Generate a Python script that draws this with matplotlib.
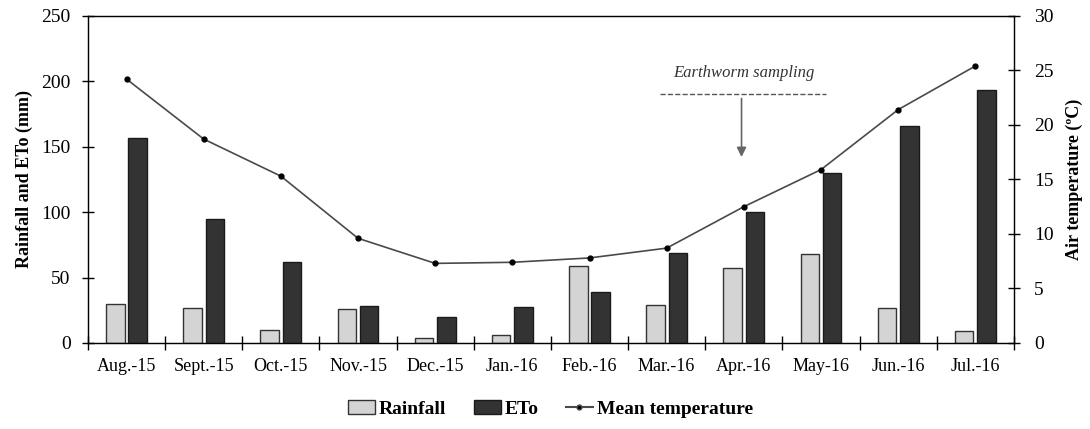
import numpy as np
import matplotlib
matplotlib.use('Agg')
import matplotlib.pyplot as plt
from matplotlib.patches import Patch
from matplotlib.lines import Line2D

plt.rcParams['font.family'] = ['Liberation Serif', 'DejaVu Serif']
plt.rcParams['font.size'] = 13

# data
months = ['Aug.-15', 'Sept.-15', 'Oct.-15', 'Nov.-15', 'Dec.-15', 'Jan.-16',
          'Feb.-16', 'Mar.-16', 'Apr.-16', 'May-16', 'Jun.-16', 'Jul.-16']
rainfall = [30, 27, 10, 26, 3.5, 6, 59, 29, 57, 68, 27, 9]
eto = [157, 95, 62, 28, 20, 27.5, 39, 69, 100, 130, 166, 193]
temp = [24.2, 18.7, 15.3, 9.6, 7.3, 7.4, 7.8, 8.7, 12.5, 15.9, 21.4, 25.4]

x = np.arange(len(months))
w = 0.24

fig = plt.figure(figsize=(10.9, 4.29), dpi=100)
ax = fig.add_axes([0.0807, 0.2005, 0.8495, 0.7625])
ax.bar(x - 0.145, rainfall, w, color='#d4d4d4', edgecolor='#333333', linewidth=1)
ax.bar(x + 0.145, eto, w, color='#333333', edgecolor='#1a1a1a', linewidth=1)
ax.set_xlim(-0.5, len(months) - 0.5)
ax.set_ylim(0, 250)
ax.set_yticks(range(0, 251, 50))
ax.set_xticks(x)
ax.set_xticklabels(months)
ax.set_xticks(np.arange(-0.5, len(months) + 0.5, 1), minor=True)
ax.tick_params(axis='x', which='major', length=0, pad=11)
ax.tick_params(axis='x', which='minor', direction='inout', length=10, width=1)
ax.tick_params(axis='y', direction='inout', length=9, width=1, pad=8, labelsize=14)
ax.set_ylabel('Rainfall and ETo (mm)', fontweight='bold', labelpad=6)
for s in ax.spines.values():
    s.set_linewidth(1)
    s.set_color('#222222')

ax2 = ax.twinx()
ax2.plot(x, temp, color='#4a4a4a', linewidth=1.2, marker='o', markersize=3.5,
         markerfacecolor='black', markeredgecolor='black')
ax2.set_ylim(0, 30)
ax2.set_yticks(range(0, 31, 5))
ax2.tick_params(axis='y', direction='inout', length=9, width=1, pad=10, labelsize=14)
ax2.set_ylabel('Air temperature (ºC)', fontweight='bold', labelpad=9)

# annotation
ax.text(8.0, 200, 'Earthworm sampling', style='italic', ha='center', va='bottom',
        fontsize=12, color='#333333')
ax.plot([6.91, 9.06], [190, 190], linestyle='--', color='#555555', linewidth=1)
ax.annotate('', xy=(7.97, 140), xytext=(7.97, 189),
            arrowprops=dict(arrowstyle='-|>', color='#666666', lw=1.2,
                            mutation_scale=14))

handles = [Patch(facecolor='#d4d4d4', edgecolor='#333333', label='Rainfall'),
           Patch(facecolor='#333333', edgecolor='#1a1a1a', label='ETo'),
           Line2D([], [], color='#4a4a4a', marker='o', markersize=3.5,
                  markerfacecolor='black', label='Mean temperature')]
fig.legend(handles=handles, loc='lower center', bbox_to_anchor=(0.505, -0.015),
           ncol=3, frameon=False, prop={'weight': 'bold', 'size': 14},
           handlelength=1.4, handletextpad=0.2, columnspacing=1.4)

fig.savefig('out.png', dpi=100)
